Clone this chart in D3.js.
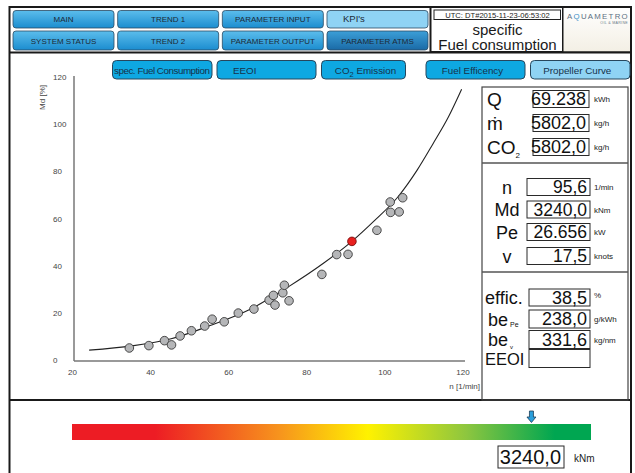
<!DOCTYPE html>
<html>
<head>
<meta charset="utf-8">
<script src="https://cdn.jsdelivr.net/npm/d3@7.9.0/dist/d3.min.js"></script>
<style>
  body { margin: 0; background: #fff; }
  svg { display: block; font-family: "Liberation Sans", Arial, sans-serif; }
</style>
</head>
<body>
<svg id="hmi" width="635" height="473"></svg>
<script>
// navigation + tabs
const navTop = ['MAIN', 'TREND 1', 'PARAMETER INPUT', "KPI's"];
const navBottom = ['SYSTEM STATUS', 'TREND 2', 'PARAMETER OUTPUT', 'PARAMETER ATMS'];
const kpiTabs = ['spec. Fuel Consumption', 'EEOI', 'CO2 Emission', 'Fuel Efficency', 'Propeller Curve'];

// propeller curve scatter (n [1/min], Md [%])
const speedN = [34.3, 39.3, 43.3, 45.1, 47.3, 50.2, 53.6, 55.5, 58.6, 62.2, 66.2,
  70.1, 71.2, 71.6, 73.6, 74.0, 75.2, 83.6, 87.4, 90.3, 97.7, 101.1, 101.2, 103.4, 104.3];
const torqueMd = [5.1, 6.1, 8.2, 6.4, 10.2, 12.4, 14.4, 17.3, 16.2, 19.9, 21.6,
  25.4, 27.4, 23.3, 28.5, 31.7, 25.1, 36.3, 44.7, 44.8, 55.0, 67.0, 62.6, 62.8, 68.8];
const currentN = [91.3];
const currentMd = [50.3];

// fitted curve
const curveN = [24, 35, 45, 55, 65, 75, 84, 91.2, 97, 103, 108, 112, 116, 119.4];
const curveMd = [4.2, 6.0, 9.0, 14.6, 21.3, 31.0, 41.0, 50.2, 59.0, 69.0, 80.5, 91.5, 103.0, 114.8];

const xTicks = [20, 40, 60, 80, 100, 120];
const yTicks = [0, 20, 40, 60, 80, 100, 120];

// right panel readings
const flowLabels = ['Q', 'ṁ', 'CO'];
const flowSubs = ['', '', '2'];
const flowValues = ['69.238', '5802,0', '5802,0'];
const flowUnits = ['kWh', 'kg/h', 'kg/h'];

const shaftLabels = ['n', 'Md', 'Pe', 'v'];
const shaftValues = ['95,6', '3240,0', '26.656', '17,5'];
const shaftUnits = ['1/min', 'kNm', 'kW', 'knots'];

const effLabels = ['effic.', 'be', 'be', 'EEOI'];
const effSubs = ['', 'Pe', 'v', ''];
const effValues = ['38,5', '238,0', '331,6', ''];
const effUnits = ['%', 'g/kWh', 'kg/nm', ''];

// torque gauge
const gaugeValue = 3240;
const gaugeMax = 3660;
const gaugeColors = ['#ed1c24', '#ed1c24', '#f7941d', '#fff200', '#8dc63f', '#00a651', '#00a651'];
const gaugeOffsets = [0, 0.16, 0.4, 0.57, 0.76, 0.93, 1];

const svg = d3.select('#hmi');
const defs = svg.append('defs');

function vGrad(id, top, bottom) {
  let g = defs.append('linearGradient').attr('id', id)
    .attr('x1', 0).attr('y1', 0).attr('x2', 0).attr('y2', 1);
  g.append('stop').attr('offset', 0).attr('stop-color', top);
  g.append('stop').attr('offset', 1).attr('stop-color', bottom);
}
vGrad('navBlue', '#5cbdec', '#1b8dcf');
vGrad('navDark', '#3c9fd8', '#1a6aa6');
vGrad('logoBg', '#ffffff', '#f3efe4');

// ---- header ----
const colX = d3.scaleBand().domain(d3.range(4)).range([13, 428]).paddingInner(0.035);

function navButton(label, i, y, h) {
  let fill = 'url(#navBlue)';
  if (label === "KPI's") fill = '#8fd3f4';
  if (label === 'PARAMETER ATMS') fill = 'url(#navDark)';
  svg.append('rect')
    .attr('x', colX(i)).attr('y', y).attr('width', colX.bandwidth()).attr('height', h)
    .attr('rx', 3).attr('fill', fill).attr('stroke', '#2b4a62').attr('stroke-width', 0.8);
  svg.append('text')
    .attr('x', label === "KPI's" ? colX(i) + 16 : colX(i) + colX.bandwidth() / 2)
    .attr('y', y + h / 2 + 3)
    .attr('text-anchor', label === "KPI's" ? 'start' : 'middle')
    .attr('font-size', label === "KPI's" ? 9.5 : 8)
    .attr('fill', '#1d2a36')
    .text(label);
}
navTop.forEach((d, i) => navButton(d, i, 10.5, 17.5));
navBottom.forEach((d, i) => navButton(d, i, 31, 19));

// title box
svg.append('rect').attr('x', 430.5).attr('y', 7).attr('width', 132.5).attr('height', 45)
  .attr('fill', '#fff').attr('stroke', '#1a1a1a').attr('stroke-width', 2);
svg.append('rect').attr('x', 434).attr('y', 10).attr('width', 126.5).attr('height', 9.5)
  .attr('fill', '#fff').attr('stroke', '#222').attr('stroke-width', 1);
svg.append('text').attr('x', 497.5).attr('y', 17.6).attr('text-anchor', 'middle')
  .attr('font-size', 7.6).attr('fill', '#222').text('UTC: DT#2015-11-23-06:53:02');
svg.append('text').attr('x', 497.5).attr('y', 34.5).attr('text-anchor', 'middle')
  .attr('font-size', 15).attr('fill', '#1a1a1a').text('specific');
svg.append('text').attr('x', 497.5).attr('y', 50).attr('text-anchor', 'middle')
  .attr('font-size', 15).attr('fill', '#1a1a1a').text('Fuel consumption');

// logo box
svg.append('rect').attr('x', 563).attr('y', 7).attr('width', 68).attr('height', 45)
  .attr('fill', 'url(#logoBg)').attr('stroke', '#1a1a1a').attr('stroke-width', 1);
const logo = svg.append('text').attr('x', 598).attr('y', 18.5).attr('text-anchor', 'middle')
  .attr('font-size', 7.8).attr('letter-spacing', 1.3).attr('fill', '#5b6f82');
logo.append('tspan').text('A');
logo.append('tspan').attr('fill', '#3a8fc8').text('Q');
logo.append('tspan').text('UAMETRO');
svg.append('text').attr('x', 628).attr('y', 24).attr('text-anchor', 'end')
  .attr('font-size', 3.6).attr('letter-spacing', 0.3).attr('fill', '#6a7a88').text('OIL & MARINE');

// frame
svg.append('rect').attr('x', 9.5).attr('y', 7).attr('width', 621.5).attr('height', 475)
  .attr('fill', 'none').attr('stroke', '#1a1a1a').attr('stroke-width', 2);
svg.append('line').attr('x1', 9.5).attr('x2', 631).attr('y1', 52.5).attr('y2', 52.5)
  .attr('stroke', '#1a1a1a').attr('stroke-width', 2.2);
svg.append('line').attr('x1', 9.5).attr('x2', 631).attr('y1', 400).attr('y2', 400)
  .attr('stroke', '#1a1a1a').attr('stroke-width', 2);

// ---- kpi tabs ----
const tabX = [112.5, 217, 321.5, 426, 530.5];
const tabW = [99.5, 99, 84, 99, 99.5];
kpiTabs.forEach((d, i) => {
  let light = d === 'Propeller Curve';
  svg.append('rect').attr('x', tabX[i]).attr('y', 60.5).attr('width', tabW[i]).attr('height', 18.5)
    .attr('rx', 4).attr('fill', light ? '#8fd3f4' : '#0ea8e2')
    .attr('stroke', '#27465c').attr('stroke-width', 1);
  let t = svg.append('text').attr('y', 73.5).attr('font-size', 9.8).attr('fill', '#16324a');
  if (i === 0) {
    t.attr('x', tabX[i] + 1.5).attr('textLength', 96).text(d);
  } else if (i === 1) {
    t.attr('x', tabX[i] + 16).text(d);
  } else if (i === 2) {
    t.attr('x', tabX[i] + tabW[i] / 2 + 2).attr('text-anchor', 'middle');
    t.append('tspan').text('CO');
    t.append('tspan').attr('dy', 3).attr('font-size', 7.5).text('2');
    t.append('tspan').attr('dy', -3).text(' Emission');
  } else {
    t.attr('x', tabX[i] + tabW[i] / 2 - 3).attr('text-anchor', 'middle').text(d);
  }
});

// ---- propeller chart ----
const x = d3.scaleLinear().domain([20, 120]).range([73.5, 464]);
const y = d3.scaleLinear().domain([0, 120]).range([360, 77]);

svg.append('line').attr('x1', 74).attr('x2', 74).attr('y1', 76).attr('y2', 361)
  .attr('stroke', '#777').attr('stroke-width', 1.5);
svg.append('line').attr('x1', 74).attr('x2', 465).attr('y1', 361).attr('y2', 361)
  .attr('stroke', '#777').attr('stroke-width', 1.5);

svg.selectAll('.ytick').data(yTicks).join('text').attr('class', 'ytick')
  .attr('x', 53).attr('y', (d) => y(d) + 3).attr('font-size', 8).attr('fill', '#444')
  .text((d) => d);
svg.selectAll('.xtick').data(xTicks).join('text').attr('class', 'xtick')
  .attr('x', (d) => x(d) - 1).attr('y', 374.5).attr('text-anchor', 'middle')
  .attr('font-size', 8).attr('fill', '#444').text((d) => d);

svg.append('text').attr('x', 480).attr('y', 389).attr('text-anchor', 'end')
  .attr('font-size', 8).attr('fill', '#444').text('n [1/min]');
svg.append('text').attr('transform', 'translate(45,85) rotate(-90)').attr('text-anchor', 'end')
  .attr('font-size', 8).attr('fill', '#444').text('Md [%]');

const curveData = curveN.map((n, i) => [n, curveMd[i]]);
svg.append('path').datum(curveData)
  .attr('d', d3.line().x((d) => x(d[0])).y((d) => y(d[1])).curve(d3.curveMonotoneX))
  .attr('fill', 'none').attr('stroke', '#222').attr('stroke-width', 1.1);

const pts = speedN.map((n, i) => ({ n: n, md: torqueMd[i] }));
svg.selectAll('.pt').data(pts).join('circle').attr('class', 'pt')
  .attr('cx', (d) => x(d.n)).attr('cy', (d) => y(d.md)).attr('r', 4.3)
  .attr('fill', '#b5b6b8').attr('stroke', '#3a3a3a').attr('stroke-width', 0.9);
svg.selectAll('.cur').data(currentN).join('circle').attr('class', 'cur')
  .attr('cx', (d) => x(d)).attr('cy', (d, i) => y(currentMd[i])).attr('r', 4.3)
  .attr('fill', '#e8201f').attr('stroke', '#7a1010').attr('stroke-width', 0.9);

// ---- right panel ----
svg.append('rect').attr('x', 482).attr('y', 87).attr('width', 146).attr('height', 313)
  .attr('fill', 'none').attr('stroke', '#444').attr('stroke-width', 1.2);
[163, 272].forEach((yy) => {
  svg.append('line').attr('x1', 482).attr('x2', 628).attr('y1', yy).attr('y2', yy)
    .attr('stroke', '#555').attr('stroke-width', 1.6);
});

function valueBox(x0, x1, cy, h, val, size) {
  svg.append('rect').attr('x', x0).attr('y', cy - h / 2).attr('width', x1 - x0).attr('height', h)
    .attr('fill', '#fff').attr('stroke', '#2a2a2a').attr('stroke-width', 1);
  if (val) {
    svg.append('text').attr('x', x1 - 3).attr('y', cy + size * 0.36).attr('text-anchor', 'end')
      .attr('font-size', size).attr('fill', '#111').text(val);
  }
}
function unit(x0, cy, u) {
  svg.append('text').attr('x', x0).attr('y', cy + 3).attr('font-size', 8).attr('fill', '#222').text(u);
}

const flowY = [99, 123, 147];
flowLabels.forEach((d, i) => {
  let t = svg.append('text').attr('x', 487).attr('y', flowY[i] + 7)
    .attr('font-size', 19).attr('fill', '#111');
  t.append('tspan').text(d);
  if (flowSubs[i]) t.append('tspan').attr('dy', 4).attr('font-size', 8).text(flowSubs[i]);
  valueBox(533, 589, flowY[i], 17, flowValues[i], 18);
  unit(594, flowY[i], flowUnits[i]);
});

const shaftY = [187, 209.5, 232, 256];
shaftLabels.forEach((d, i) => {
  svg.append('text').attr('x', 507).attr('y', shaftY[i] + 6.5).attr('text-anchor', 'middle')
    .attr('font-size', 18).attr('fill', '#111').text(d);
  valueBox(527, 590, shaftY[i], 17, shaftValues[i], 17.5);
  unit(594, shaftY[i], shaftUnits[i]);
});

const effY = [297.5, 319, 339.5, 358.5];
effLabels.forEach((d, i) => {
  let t = svg.append('text').attr('x', i === 1 || i === 2 ? 488 : 485)
    .attr('y', effY[i] + (i === 3 ? 6 : 6.5))
    .attr('font-size', i === 3 ? 16.5 : 18).attr('fill', '#111');
  t.append('tspan').text(d);
  if (effSubs[i]) {
    t.append('tspan').attr('dx', 2).attr('dy', i === 1 ? 1 : 3)
      .attr('font-size', i === 1 ? 7 : 6).text(effSubs[i]);
  }
  valueBox(529, 590, effY[i], i === 0 ? 17 : 18, effValues[i], 18);
  unit(594, effY[i] - (i === 0 ? 3 : 0), effUnits[i]);
});

// ---- torque gauge ----
const gx = d3.scaleLinear().domain([0, gaugeMax]).range([72, 591]);
const gg = defs.append('linearGradient').attr('id', 'gauge');
gaugeOffsets.forEach((o, i) => {
  gg.append('stop').attr('offset', o).attr('stop-color', gaugeColors[i]);
});
svg.append('rect').attr('x', gx(0)).attr('y', 424).attr('width', gx(gaugeMax) - gx(0)).attr('height', 16)
  .attr('fill', 'url(#gauge)');

const ax = gx(gaugeValue);
svg.append('path')
  .attr('d', `M${ax - 2},${411} H${ax + 2} V${417} H${ax + 4.5} L${ax},${422.5} L${ax - 4.5},${417} H${ax - 2} Z`)
  .attr('fill', '#2a9fdc').attr('stroke', '#1d3c55').attr('stroke-width', 0.8);

valueBox(498, 564, 457, 22, '3240,0', 20);
svg.append('text').attr('x', 574).attr('y', 462).attr('font-size', 10).attr('fill', '#222').text('kNm');
</script>
</body>
</html>
